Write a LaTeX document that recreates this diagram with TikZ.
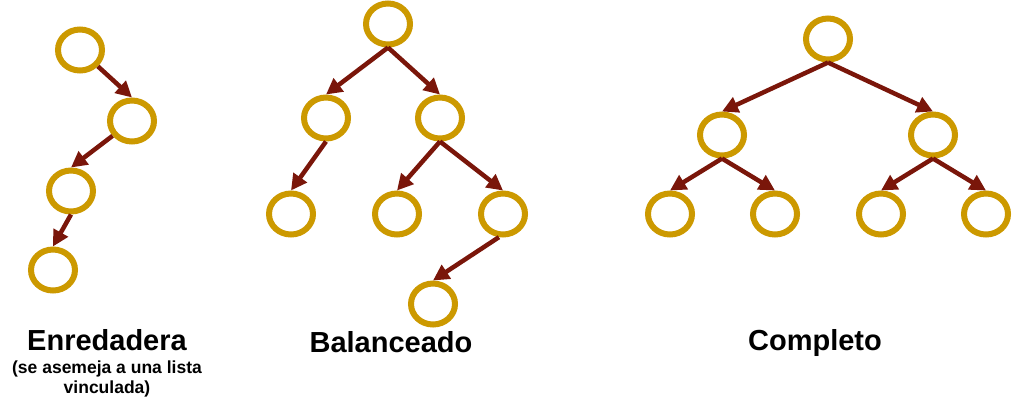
\documentclass[tikz,border=0pt]{standalone}
\usepackage{fontspec}
\setmainfont{Liberation Sans}
\usetikzlibrary{shapes.geometric,arrows.meta}
\definecolor{ringgold}{RGB}{204,153,0}
\definecolor{arrowred}{RGB}{122,22,10}
\tikzset{
  treenode/.style={ellipse, draw=ringgold, line width=6pt, minimum width=44pt, minimum height=41pt, inner sep=0pt, fill=white},
  treeedge/.style={draw=arrowred, line width=4.5pt, -{Triangle[length=16pt,width=16pt]}},
  biglabel/.style={font=\bfseries\fontsize{29}{34}\selectfont, anchor=base, inner sep=0pt},
  smalllabel/.style={font=\bfseries\fontsize{17.5}{20}\selectfont, anchor=base, inner sep=0pt}
}
\begin{document}
\begin{tikzpicture}[x=1pt,y=-1pt]
\useasboundingbox (0,0) rectangle (1016,400);
% Enredadera
\node[treenode] (e1) at (80,50) {};
\node[treenode] (e2) at (132,121) {};
\node[treenode] (e3) at (71,191) {};
\node[treenode] (e4) at (53,270) {};
\draw[treeedge] (e1) -- (e2.north);
\draw[treeedge] (e2) -- (e3.north);
\draw[treeedge] (e3.south) -- (e4.north);
% Balanceado
\node[treenode] (b1) at (388,24) {};
\node[treenode] (b2) at (326,118) {};
\node[treenode] (b3) at (440,118) {};
\node[treenode] (b4) at (291,214) {};
\node[treenode] (b5) at (397,214) {};
\node[treenode] (b6) at (503,214) {};
\node[treenode] (b7) at (433,304) {};
\draw[treeedge] (b1.south) -- (b2.north);
\draw[treeedge] (b1.south) -- (b3.north);
\draw[treeedge] (b2.south) -- (b4.north);
\draw[treeedge] (b3.south) -- (b5.north);
\draw[treeedge] (b3.south) -- (b6.north);
\draw[treeedge] (b6.-100) -- (b7.north);
% Completo
\node[treenode] (c1) at (828,39) {};
\node[treenode] (c2) at (722,135) {};
\node[treenode] (c3) at (933,135) {};
\node[treenode] (c4) at (670,214) {};
\node[treenode] (c5) at (775,214) {};
\node[treenode] (c6) at (881,214) {};
\node[treenode] (c7) at (986,214) {};
\draw[treeedge] (c1.south) -- (c2.north);
\draw[treeedge] (c1.south) -- (c3.north);
\draw[treeedge] (c2.south) -- (c4.north);
\draw[treeedge] (c2.south) -- (c5.north);
\draw[treeedge] (c3.south) -- (c6.north);
\draw[treeedge] (c3.south) -- (c7.north);
% Labels
\node[biglabel] (l1) at (107,350) {Enredadera};
\node[smalllabel] (l1a) at (107,373) {(se asemeja a una lista};
\node[smalllabel] (l1b) at (107,393) {vinculada)};
\node[biglabel] (l2) at (391,352) {Balanceado};
\node[biglabel] (l3) at (815,350) {Completo};
\end{tikzpicture}
\end{document}
